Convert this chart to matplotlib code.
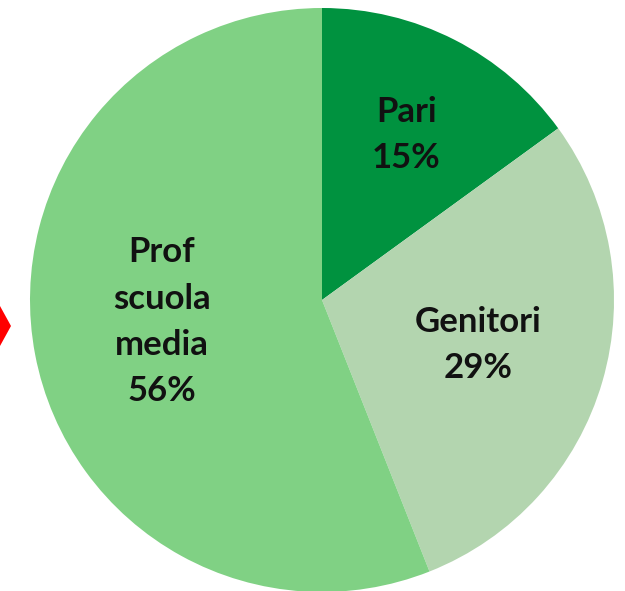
import numpy as np
import matplotlib
matplotlib.use("Agg")
import matplotlib.pyplot as plt
from matplotlib.patches import Polygon

# data
categories = ["Pari", "Genitori", "Prof\nscuola\nmedia"]
shares = [15, 29, 56]
colors = ["#00923F", "#B3D5AF", "#80D184"]
label_dist = [0.635, 0.555, 0.55]
label_nudge = [(0, 0), (0, 0), (-2, 6)]  # points

plt.rcParams["font.family"] = ["Lato", "DejaVu Sans"]

fig = plt.figure(figsize=(6.25, 5.91), dpi=100)
ax = fig.add_axes([0, 0, 1, 1])

# pie centre at pixel (322, 300), radius 292 px
r_px = 292.0
ax.axis("off")

wedges, _ = ax.pie(shares, colors=colors, startangle=90, counterclock=False,
                   radius=1.0, wedgeprops=dict(linewidth=0))
ax.set_xlim(-322 / r_px, (625 - 322) / r_px)
ax.set_ylim(-(591 - 300) / r_px, 300 / r_px)
ax.set_aspect("auto")

for w, name, val, d, nd in zip(wedges, categories, shares, label_dist, label_nudge):
    mid = np.deg2rad((w.theta1 + w.theta2) / 2)
    ax.annotate(f"{name}\n{val}%", (d * np.cos(mid), d * np.sin(mid)),
                xytext=nd, textcoords="offset points",
                ha="center", va="center", fontsize=25, fontweight="bold",
                color="#111111", linespacing=1.55)

# red arrow tip cut off at the left edge
fig.patches.append(Polygon([(0, 1 - 346 / 591), (11 / 625, 1 - 326 / 591), (0, 1 - 306 / 591)],
                           closed=True, transform=fig.transFigure,
                           facecolor="#FF0000", edgecolor="none"))

fig.savefig("out.png", dpi=100)
